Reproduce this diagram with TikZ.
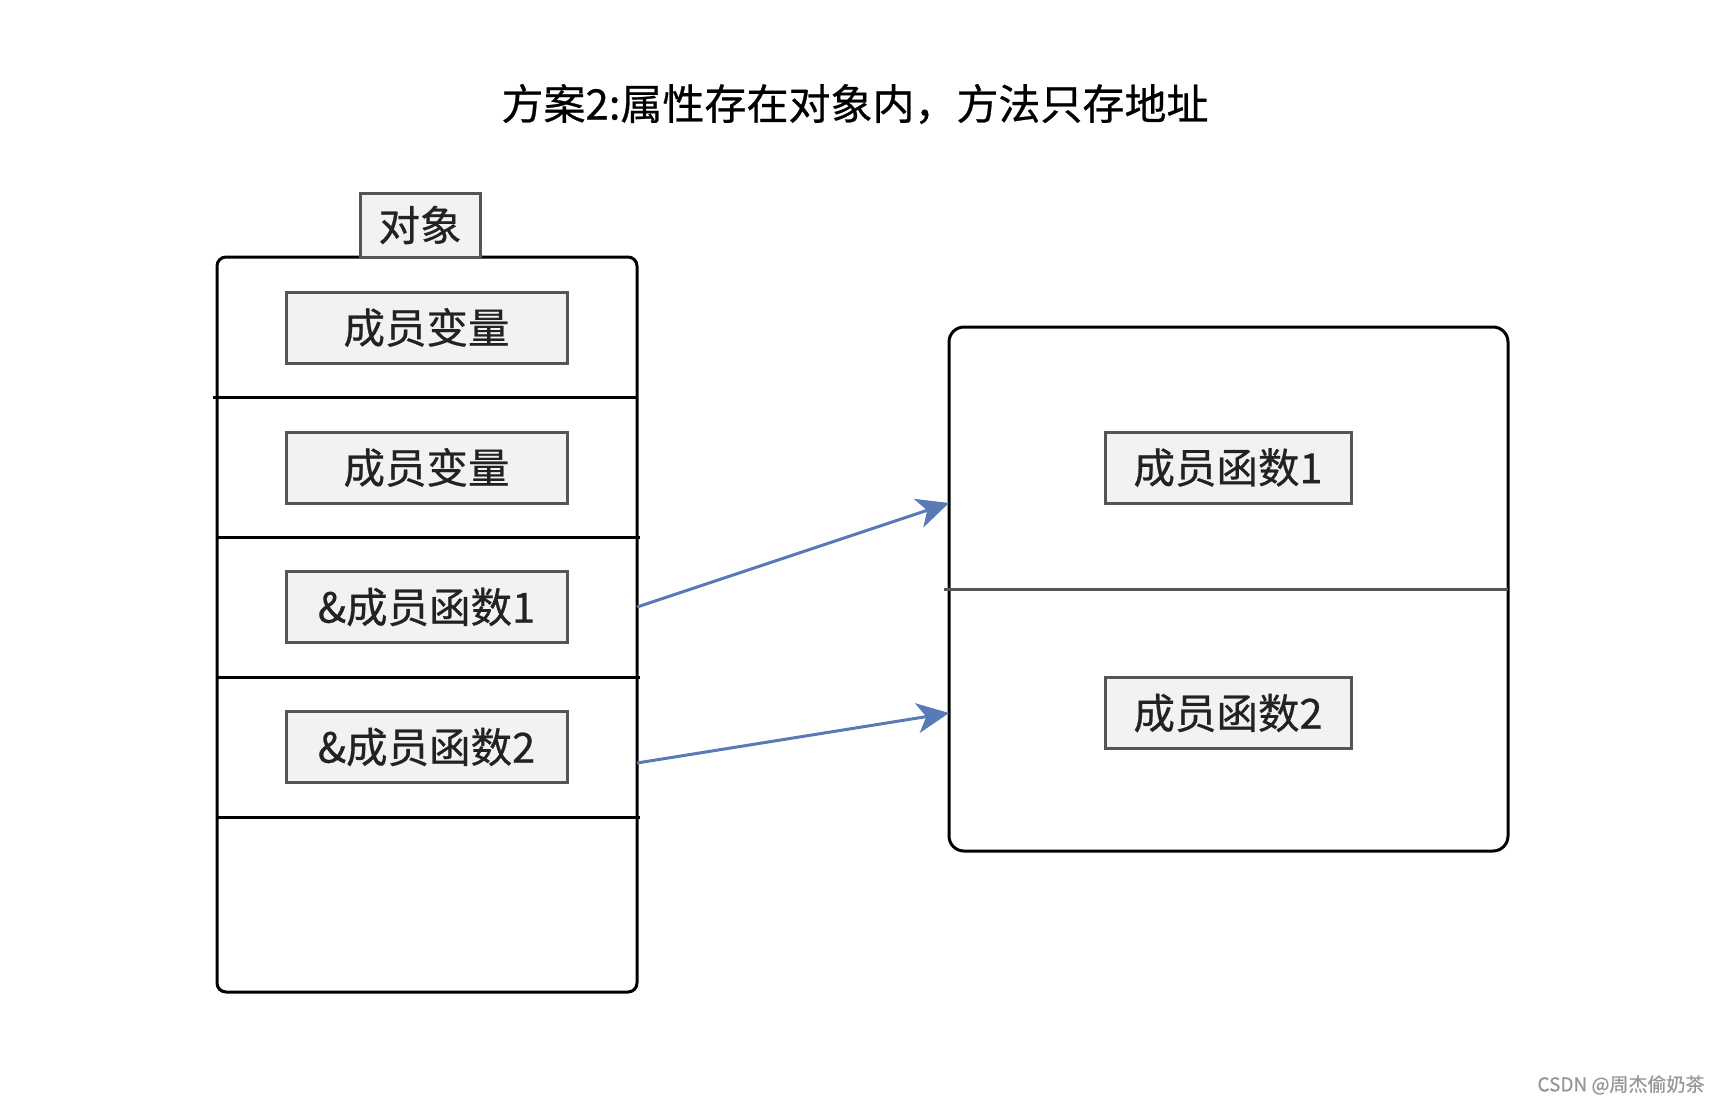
\documentclass[tikz,border=0pt]{standalone}
\usepackage{fontspec}
\setmainfont{Noto Sans CJK SC}[FakeBold=0.6]
\usetikzlibrary{arrows.meta}
\definecolor{arrowblue}{RGB}{88,122,182}
\definecolor{boxgray}{RGB}{85,85,85}
\definecolor{boxfill}{RGB}{242,242,242}
\definecolor{txt}{RGB}{34,34,34}
\tikzset{
  outerbox/.style={draw=black, line width=3pt, inner sep=0pt, outer sep=0pt},
  label box/.style={draw=boxgray, fill=boxfill, line width=3pt, inner sep=0pt, outer sep=0pt,
    text=txt, font=\fontsize{41.5}{48}\selectfont},
  divider/.style={line width=3pt, black},
  gdivider/.style={line width=3pt, boxgray},
  link/.style={line width=3pt, arrowblue, -{Stealth[length=32pt, width=30pt, inset=9pt]}},
}
\begin{document}
\begin{tikzpicture}[x=1pt, y=-1pt]
\useasboundingbox[fill=white] (0,0) rectangle (1722,1106);

% title
\node[font=\fontsize{42}{48}\selectfont, text=black] (title) at (855,104) {方案2:属性存在对象内，方法只存地址};

% left object box
\node[outerbox, rounded corners=9pt, minimum width=420pt, minimum height=735pt] (lbox) at (427,624.5) {};
\node[label box, minimum width=120pt, minimum height=64pt] (obj) at (420,225) {对象};

\coordinate (d1l) at (213,397); \coordinate (d1r) at (637,397);
\coordinate (d2l) at (217,537); \coordinate (d2r) at (640,537);
\coordinate (d3l) at (217,677); \coordinate (d3r) at (640,677);
\coordinate (d4l) at (217,817); \coordinate (d4r) at (640,817);
\draw[divider] (d1l) -- (d1r);
\draw[divider] (d2l) -- (d2r);
\draw[divider] (d3l) -- (d3r);
\draw[divider] (d4l) -- (d4r);

\node[label box, minimum width=281pt, minimum height=71pt] (v1) at (426.5,327.5) {成员变量};
\node[label box, minimum width=281pt, minimum height=71pt] (v2) at (426.5,467.5) {成员变量};
\node[label box, minimum width=281pt, minimum height=71pt] (p1) at (426.5,607) {\&成员函数1};
\node[label box, minimum width=281pt, minimum height=71pt] (p2) at (426.5,747) {\&成员函数2};

% right function box
\node[outerbox, rounded corners=15pt, minimum width=559pt, minimum height=524pt] (rbox) at (1228.5,589) {};
\coordinate (rdl) at (944,589); \coordinate (rdr) at (1508,589);
\draw[gdivider] (rdl) -- (rdr);
\node[label box, minimum width=246pt, minimum height=71pt] (f1) at (1228,467.5) {成员函数1};
\node[label box, minimum width=246pt, minimum height=71pt] (f2) at (1228,713) {成员函数2};

% links
\draw[link] (lbox.east |- p1.center) -- (rbox.west |- f1.south);
\draw[link] ([yshift=-16pt]lbox.east |- p2.center) -- (rbox.west |- f2.center);

% watermark
\node[font=\fontsize{19}{22}\selectfont, text={rgb,255:red,150;green,150;blue,150}, anchor=east] (wm) at (1708,1085) {CSDN @周杰偷奶茶};
\end{tikzpicture}
\end{document}
